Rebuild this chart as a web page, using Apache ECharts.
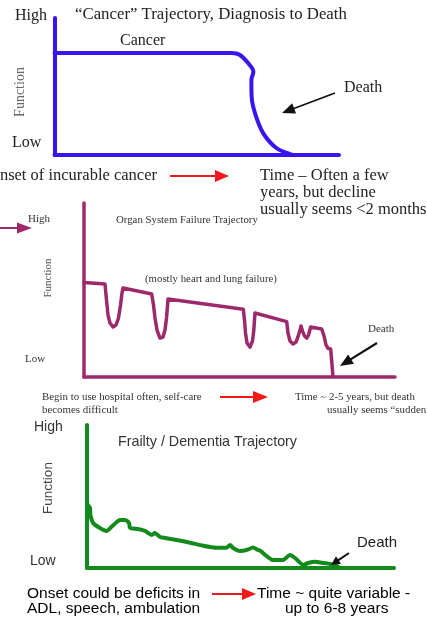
<!DOCTYPE html>
<html>
<head>
<meta charset="utf-8">
<script src="https://cdn.jsdelivr.net/npm/echarts@6/dist/echarts.min.js"></script>
<style>html,body{margin:0;padding:0;background:#fff;}#c{width:427px;height:620px;}</style>
</head>
<body>
<div id="c"></div>
<script>
// Cancer trajectory (time %, function %)
var cancerTime = [0, 62.3, 65.2, 68.1, 69.9, 69.2, 69.3, 70.5, 73.4, 78.1, 82.8, 84];
var cancerFunction = [74.5, 74.5, 73.0, 66.9, 60.8, 54.7, 42.6, 30.4, 15.8, 4.9, 0.7, 0];

// Organ system failure trajectory
var organTime = [0, 6.75, 7.23, 7.72, 8.36, 9.32, 10.29, 11.09, 11.74, 12.22, 12.54,
  21.77, 22.35, 22.83, 23.47, 24.44, 25.4, 26.05, 26.53, 26.85, 27.01,
  51.22, 51.61, 51.93, 52.41, 53.38, 54.18, 54.6, 54.82, 54.98,
  65.18, 65.59, 66.24, 67.2, 68.17, 68.81, 69.45, 69.77, 70.26, 70.9, 71.61, 72.19, 72.89,
  76.43, 77.17, 77.81, 78.46, 79.32, 80.06];
var organFunction = [54.3, 53.4, 44.3, 35.6, 31.0, 28.7, 29.9, 33.9, 41.4, 48.3, 51.1,
  47.7, 41.4, 33.9, 27.0, 22.4, 23.0, 27.0, 33.9, 40.8, 44.8,
  38.9, 32.8, 25.3, 19.5, 17.2, 20.7, 27.0, 32.8, 36.8,
  31.8, 25.3, 20.7, 19.0, 20.1, 23.2, 27.0, 29.3, 26.4, 23.6, 22.4, 24.1, 28.7,
  27.6, 23.6, 18.4, 16.4, 16.1, 0.2];

// Frailty / dementia trajectory
var frailTime = [0.3, 1.0, 1.1, 2.0, 4.2, 6.4, 8.0, 9.7, 10.7, 12.4, 13.7, 14.0, 16.6, 18.9, 19.9, 21.1, 22.1, 23.8, 25.4, 29.2, 33.6, 37.8, 42.2, 45.5, 46.6, 47.6, 49.8, 52.0, 54.1, 55.7, 56.4, 60.6, 63.8, 66.1, 67.8, 70.4, 72.0, 74.3, 76.5, 79.2, 81.8];
var frailFunction = [44.1, 42.0, 37.1, 31.5, 28.0, 25.9, 28.9, 32.2, 33.6, 33.6, 31.5, 28.0, 27.3, 25.9, 24.5, 23.1, 24.5, 21.7, 21.0, 19.6, 17.7, 15.6, 14.2, 14.2, 16.1, 14.0, 11.9, 12.6, 14.3, 12.6, 12.1, 5.6, 5.6, 9.1, 7.0, 2.1, 3.5, 4.4, 3.7, 2.8, 0.9];

function zip(a, b) { return a.map(function (v, i) { return [v, b[i]]; }); }

var BLUE = '#3A14EE', PURPLE = '#9C2A6B', GREEN = '#128A1C';
var SERIF = '"Liberation Serif", "DejaVu Serif", serif';
var SANS = '"Liberation Sans", Arial, sans-serif';

function axisPair(idx, color, w) {
  var common = {
    type: 'value', min: 0, max: 100, gridIndex: idx,
    axisTick: { show: false }, axisLabel: { show: false }, splitLine: { show: false },
    axisLine: { show: true, lineStyle: { color: color, width: w, cap: 'round' } }
  };
  return [Object.assign({}, common), Object.assign({}, common)];
}
var a1 = axisPair(0, BLUE, 4), a2 = axisPair(1, PURPLE, 3.5), a3 = axisPair(2, GREEN, 4);

function txt(t, x, y, font, fill, align, rot) {
  var el = { type: 'text', x: x, y: y, z: 10,
    style: { text: t, x: 0, y: 0, font: font, fill: fill || '#222', textAlign: align || 'left', textVerticalAlign: 'middle' } };
  if (rot) el.rotation = rot;
  return el;
}
function arrow(x1, y1, x2, y2, color, lw, hl, hw) {
  var dx = x2 - x1, dy = y2 - y1, L = Math.sqrt(dx * dx + dy * dy);
  var ux = dx / L, uy = dy / L, bx = x2 - ux * hl, by = y2 - uy * hl;
  return [
    { type: 'line', z: 9, shape: { x1: x1, y1: y1, x2: bx + ux * 1, y2: by + uy * 1 }, style: { stroke: color, lineWidth: lw } },
    { type: 'polygon', z: 9, shape: { points: [[x2, y2], [bx - uy * hw / 2, by + ux * hw / 2], [bx + uy * hw / 2, by - ux * hw / 2]] }, style: { fill: color } }
  ];
}

var g = [];
// Panel 1
g.push(txt('High', 15, 16, '16px ' + SERIF, '#222'));
g.push(txt('\u201CCancer\u201D Trajectory, Diagnosis to Death', 75, 15, '16.8px ' + SERIF, '#222'));
g.push(txt('Cancer', 120, 41, '16px ' + SERIF, '#222'));
g.push(txt('Function', 20, 92, '14px ' + SERIF, '#666', 'center', Math.PI / 2));
g.push(txt('Low', 12, 143, '16px ' + SERIF, '#222'));
g.push(txt('Death', 344, 88, '16px ' + SERIF, '#222'));
g = g.concat(arrow(335, 93, 282, 113, '#111', 1.8, 13, 11));
g.push(txt('Onset of incurable cancer', 157, 176, '16.5px ' + SERIF, '#222', 'right'));
g = g.concat(arrow(170, 176, 229, 176, '#F01818', 2, 14, 12));
g.push(txt('Time \u2013 Often a few', 260, 176, '16.5px ' + SERIF, '#222'));
g.push(txt('years, but decline', 260, 193, '16.5px ' + SERIF, '#222'));
g.push(txt('usually seems <2 months', 260, 210, '16.5px ' + SERIF, '#222'));
// Panel 2
g.push(txt('High', 28, 219, '11px ' + SERIF, '#333'));
g = g.concat(arrow(0, 228, 32, 228, PURPLE, 2, 15, 11));
g.push(txt('Organ System Failure Trajectory', 116, 220, '10.8px ' + SERIF, '#333'));
g.push(txt('Function', 48, 278, '11px ' + SERIF, '#555', 'center', Math.PI / 2));
g.push(txt('(mostly heart and lung failure)', 145, 279, '10.8px ' + SERIF, '#333'));
g.push(txt('Low', 25, 359, '11px ' + SERIF, '#333'));
g.push(txt('Death', 368, 329, '11px ' + SERIF, '#333'));
g = g.concat(arrow(377, 343, 340, 366, '#111', 2.2, 13, 11));
g.push(txt('Begin to use hospital often, self-care', 42, 397, '10.9px ' + SERIF, '#333'));
g.push(txt('becomes difficult', 42, 410, '10.9px ' + SERIF, '#333'));
g = g.concat(arrow(220, 397, 268, 397, '#F01818', 2, 15, 12));
g.push(txt('Time ~ 2-5 years, but death', 295, 397, '10.9px ' + SERIF, '#333'));
g.push(txt('usually seems \u201Csudden\u201D', 327, 410, '10.9px ' + SERIF, '#333'));
// Panel 3
g.push(txt('High', 34, 427, '14px ' + SANS, '#333'));
g.push(txt('Frailty / Dementia Trajectory', 118, 442, '14.3px ' + SANS, '#333'));
g.push(txt('Function', 48, 488, '13.5px ' + SANS, '#444', 'center', Math.PI / 2));
g.push(txt('Low', 30, 561, '14px ' + SANS, '#333'));
g.push(txt('Death', 357, 543, '15px ' + SANS, '#222'));
g = g.concat(arrow(349, 553, 331, 565, '#111', 2, 9, 9));
g.push(txt('Onset could be deficits in', 27, 594, '15.5px ' + SANS, '#000'));
g.push(txt('ADL, speech, ambulation', 27, 609, '15.5px ' + SANS, '#000'));
g = g.concat(arrow(212, 594, 256, 594, '#F01818', 2, 14, 12));
g.push(txt('Time ~ quite variable -', 257, 594, '15.5px ' + SANS, '#000'));
g.push(txt('up to 6-8 years', 285, 609, '15.5px ' + SANS, '#000'));

var chart = echarts.init(document.getElementById('c'), null, { renderer: 'canvas' });
chart.setOption({
  backgroundColor: '#fff',
  animation: false,
  grid: [
    { left: 54.5, top: 18, width: 284.5, height: 137 },
    { left: 84, top: 203, width: 311, height: 174 },
    { left: 87, top: 425, width: 307, height: 143 }
  ],
  xAxis: [a1[0], a2[0], a3[0]],
  yAxis: [a1[1], a2[1], a3[1]],
  series: [
    { type: 'line', xAxisIndex: 0, yAxisIndex: 0, data: zip(cancerTime, cancerFunction), symbol: 'none', smooth: 0.35,
      lineStyle: { color: BLUE, width: 4, cap: 'round', join: 'round' } },
    { type: 'line', xAxisIndex: 1, yAxisIndex: 1, data: zip(organTime, organFunction), symbol: 'none', smooth: false,
      lineStyle: { color: PURPLE, width: 3.5, cap: 'round', join: 'round' } },
    { type: 'line', xAxisIndex: 2, yAxisIndex: 2, data: zip(frailTime, frailFunction), symbol: 'none', smooth: 0.2,
      lineStyle: { color: GREEN, width: 4, cap: 'round', join: 'round' } }
  ],
  graphic: g
});
</script>
</body>
</html>
